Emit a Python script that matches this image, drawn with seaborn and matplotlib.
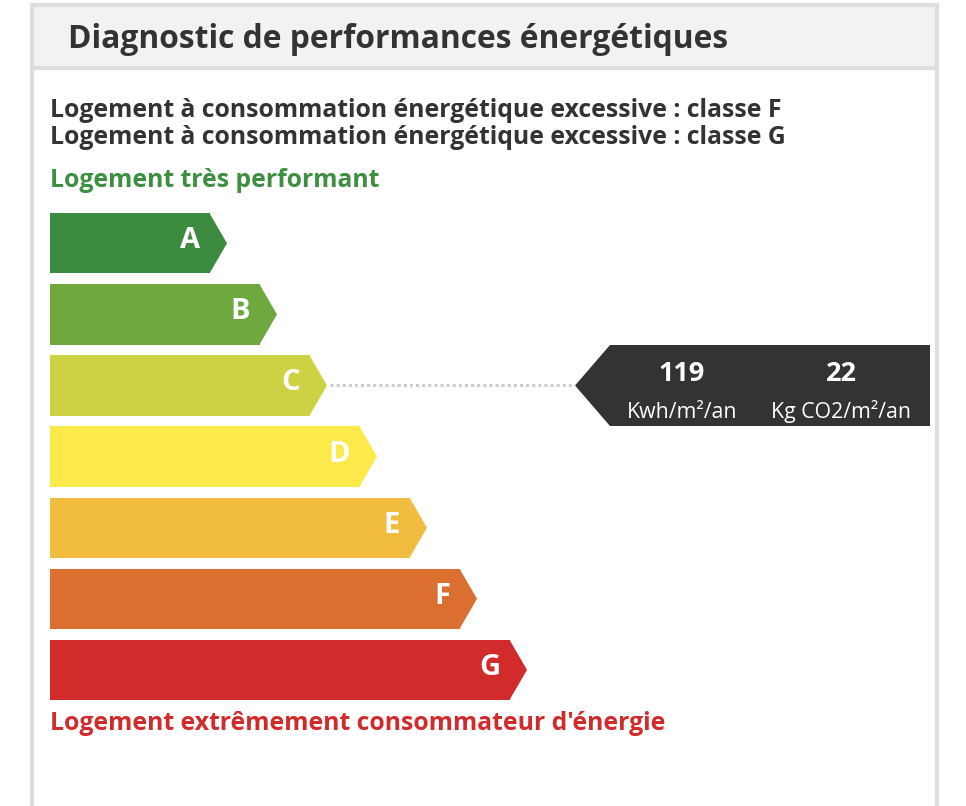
import matplotlib
matplotlib.use("Agg")
import matplotlib.pyplot as plt
from matplotlib.patches import Polygon, Rectangle
import seaborn as sns

# Data
classes = ["A", "B", "C", "D", "E", "F", "G"]
bar_lengths = [160, 210, 260, 310, 360, 410, 460]
bar_colors = ["#3d8b40", "#6ea83f", "#cdd245", "#fbea4a", "#f2bc41", "#db6f2f", "#d12b2b"]

current_class = "C"
energy_value = 119
energy_unit = "Kwh/m²/an"
ges_value = 22
ges_unit = "Kg CO2/m²/an"

title = "Diagnostic de performances énergétiques"
warnings = [
    "Logement à consommation énergétique excessive : classe F",
    "Logement à consommation énergétique excessive : classe G",
]
top_label = "Logement très performant"
bottom_label = "Logement extrêmement consommateur d'énergie"

DARK = "#333333"
FONT = "Open Sans"

W, H = 966, 806
fig = plt.figure(figsize=(W / 100, H / 100), dpi=100)
plt.rcParams["font.family"] = [FONT, "DejaVu Sans"]

# background axes in pixel coordinates (frame + texts)
bg = fig.add_axes([0, 0, 1, 1])
bg.set_xlim(0, W)
bg.set_ylim(H, 0)
bg.set_axis_off()

border = "#dddddd"
bg.add_patch(Rectangle((32, 4.5), 905, 63.5, facecolor="#f2f2f2", edgecolor=border, linewidth=3))
bg.plot([32, 32], [68, H], color=border, lw=3, solid_capstyle="butt")
bg.plot([937, 937], [68, H], color=border, lw=3, solid_capstyle="butt")

bg.text(68, 48, title, fontsize=22.9, fontweight="bold", color=DARK, va="baseline")
bg.text(50, 117, warnings[0], fontsize=17.8, fontweight="bold", color=DARK, va="baseline")
bg.text(50, 144, warnings[1], fontsize=17.8, fontweight="bold", color=DARK, va="baseline")
bg.text(50, 187, top_label, fontsize=17.8, fontweight="bold", color="#3d8f41", va="baseline")
bg.text(50, 729.5, bottom_label, fontsize=17.8, fontweight="bold", color="#d12b2b", va="baseline")

# bars axes: x in pixels from bar origin, y categorical
ax = fig.add_axes([0, 0, 1, 1])
ax.patch.set_alpha(0)
sns.barplot(x=bar_lengths, y=classes, hue=classes, palette=bar_colors, legend=False,
            orient="h", width=0.848, saturation=1, linewidth=0, ax=ax)
row_px = 71.1
ax.set_xlim(-50, W - 50)
ax.set_ylim((H - 243.3) / row_px, -243.3 / row_px)
ax.set_axis_off()

tip = 17
for bar, cls, col in zip(ax.patches, classes, bar_colors):
    x0, y0 = bar.get_x(), bar.get_y()
    w, h = bar.get_width(), bar.get_height()
    ax.add_patch(Polygon([(x0 + w - 0.5, y0), (x0 + w + tip, y0 + h / 2), (x0 + w - 0.5, y0 + h)],
                         closed=True, facecolor=col, edgecolor="none"))
    ax.text(x0 + w - 10, y0 + h / 2 - 2.5 / row_px, cls, ha="right", va="center",
            fontsize=21, fontweight="bold", color="white")

# indicator
ci = classes.index(current_class)
cur = ax.patches[ci]
cur_end = cur.get_x() + cur.get_width() + tip
ind_tip, ind_left, ind_right = 525, 560, 880
half = 40.5 / row_px
ax.plot([cur_end + 3, ind_tip - 3], [ci, ci], color="#cccccc", lw=2.2, linestyle=(0, (1, 1)))
ax.add_patch(Polygon([(ind_tip, ci), (ind_left, ci - half), (ind_right, ci - half),
                      (ind_right, ci + half), (ind_left, ci + half)],
                     closed=True, facecolor=DARK, edgecolor="none"))
for cx, val, unit in [(632, energy_value, energy_unit), (791, ges_value, ges_unit)]:
    ax.text(cx, ci - 4.5 / row_px, str(val), ha="center", va="baseline",
            fontsize=19.5, fontweight="bold", color="white")
    ax.text(cx, ci + 32.8 / row_px, unit, ha="center", va="baseline",
            fontsize=15.3, color="white")

fig.savefig("out.png", dpi=100)
